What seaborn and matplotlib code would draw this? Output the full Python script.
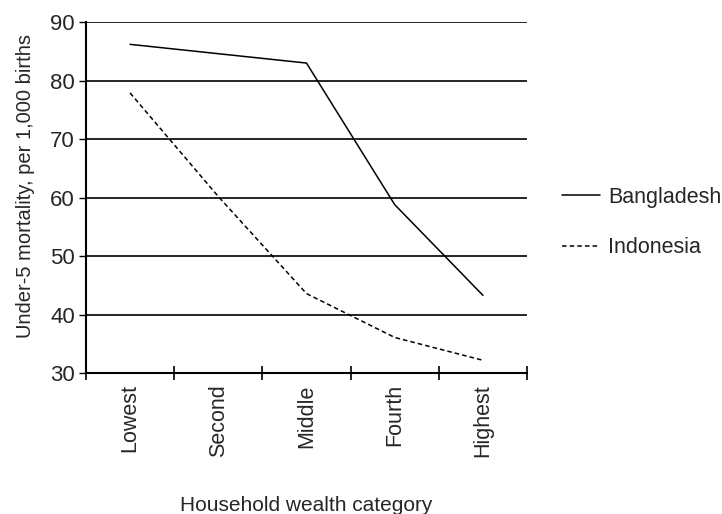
import pandas as pd
import matplotlib
matplotlib.use("Agg")
import matplotlib.pyplot as plt
import seaborn as sns

# data
categories = ["Lowest", "Second", "Middle", "Fourth", "Highest"]
bangladesh = [86.2, 84.6, 83.0, 58.8, 43.3]
indonesia = [77.9, 60.2, 43.6, 36.1, 32.2]

df = pd.DataFrame({
    "category": categories * 2,
    "pos": list(range(len(categories))) * 2,
    "mortality": bangladesh + indonesia,
    "country": ["Bangladesh"] * 5 + ["Indonesia"] * 5,
})

sns.set_style("white")
plt.rcParams["font.family"] = ["Liberation Sans", "DejaVu Sans"]

fig = plt.figure(figsize=(7.22, 5.14), dpi=100)
ax = fig.add_axes([0.119, 0.274, 0.611, 0.683])

sns.lineplot(data=df, x="pos", y="mortality", hue="country", style="country",
             palette=["black", "black"], dashes={"Bangladesh": "", "Indonesia": (3, 2)},
             linewidth=1.1, ax=ax, legend=False)

ax.set_ylim(30, 90)
ax.set_yticks(range(30, 91, 10))
ax.set_xlim(-0.5, len(categories) - 0.5)
ax.set_xticks([i - 0.5 for i in range(len(categories) + 1)])
ax.set_xticklabels([])
ax.set_xticks(range(len(categories)), minor=True)
ax.set_xticklabels(categories, minor=True, rotation=90)
ax.tick_params(axis="x", which="major", bottom=True, direction="inout", length=10, width=1.2, color="black")
ax.tick_params(axis="x", which="minor", bottom=True, length=0, pad=8, labelsize=15.5)
ax.tick_params(axis="y", left=True, direction="out", length=5, width=1, color="black", labelsize=16, pad=3)

for v in range(40, 91, 10):
    ax.axhline(v, color="black", linewidth=1.2, zorder=0)

for s in ["top", "right"]:
    ax.spines[s].set_visible(False)
for s in ["left", "bottom"]:
    ax.spines[s].set_color("black")
    ax.spines[s].set_linewidth(1.5)

ax.set_xlabel("Household wealth category", fontsize=15, labelpad=28)
ax.set_ylabel("Under-5 mortality, per 1,000 births", fontsize=14.5)
ax.yaxis.set_label_coords(-0.116, 0.533)

h1, = ax.plot([], [], color="black", linewidth=1.1)
h2, = ax.plot([], [], color="black", linewidth=1.1, dashes=(3, 2))
fig.legend([h1, h2], ["Bangladesh", "Indonesia"], loc="center left",
           bbox_to_anchor=(0.752, 0.567), frameon=False, fontsize=15.5,
           labelspacing=1.35, handlelength=1.77, handletextpad=0.37)

fig.savefig("out.png", dpi=100)
